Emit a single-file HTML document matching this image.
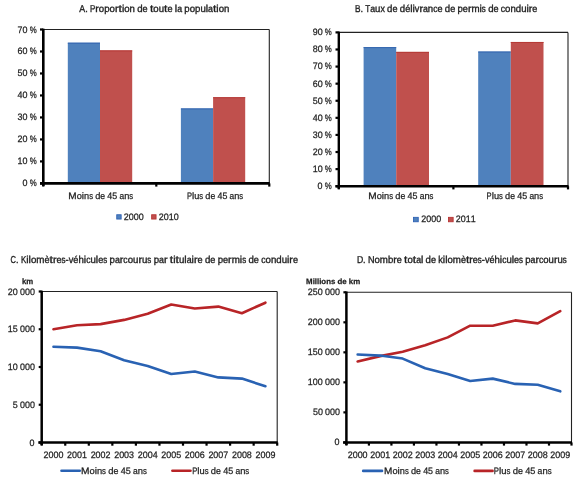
<!DOCTYPE html>
<html><head><meta charset="utf-8"><style>
html,body{margin:0;padding:0;background:#fff;width:580px;height:478px;overflow:hidden}
svg{display:block;font-family:"Liberation Sans", sans-serif}
text{stroke:#1e1e1e;text-rendering:geometricPrecision}
svg{stroke-width:0.25px}
svg{will-change:transform}
</style></head><body>
<svg width="580" height="478" viewBox="0 0 580 478">
<rect width="580" height="478" fill="#fff"/>
<rect x="43.30" y="29.50" width="226.00" height="153.90" fill="#fff"/>
<rect x="67.80" y="42.69" width="32.20" height="140.71" fill="#4F81BD"/>
<rect x="67.80" y="42.69" width="32.20" height="1.00" fill="#3566B0"/>
<rect x="100.00" y="50.39" width="32.20" height="133.01" fill="#C0504D"/>
<rect x="100.00" y="50.39" width="32.20" height="1.00" fill="#B53A36"/>
<rect x="180.90" y="108.43" width="32.20" height="74.97" fill="#4F81BD"/>
<rect x="180.90" y="108.43" width="32.20" height="1.00" fill="#3566B0"/>
<rect x="213.10" y="97.22" width="32.10" height="86.18" fill="#C0504D"/>
<rect x="213.10" y="97.22" width="32.10" height="1.00" fill="#B53A36"/>
<line x1="43.30" y1="29.50" x2="269.30" y2="29.50" stroke="#222" stroke-width="1.1"/>
<line x1="269.30" y1="29.50" x2="269.30" y2="183.40" stroke="#222" stroke-width="1.1"/>
<line x1="43.30" y1="28.70" x2="43.30" y2="186.00" stroke="#000" stroke-width="2.6"/>
<line x1="40.00" y1="183.40" x2="269.80" y2="183.40" stroke="#000" stroke-width="2.6"/>
<line x1="40.00" y1="183.40" x2="43.30" y2="183.40" stroke="#000" stroke-width="2.2"/>
<line x1="40.00" y1="161.41" x2="43.30" y2="161.41" stroke="#000" stroke-width="2.2"/>
<line x1="40.00" y1="139.43" x2="43.30" y2="139.43" stroke="#000" stroke-width="2.2"/>
<line x1="40.00" y1="117.44" x2="43.30" y2="117.44" stroke="#000" stroke-width="2.2"/>
<line x1="40.00" y1="95.46" x2="43.30" y2="95.46" stroke="#000" stroke-width="2.2"/>
<line x1="40.00" y1="73.47" x2="43.30" y2="73.47" stroke="#000" stroke-width="2.2"/>
<line x1="40.00" y1="51.49" x2="43.30" y2="51.49" stroke="#000" stroke-width="2.2"/>
<line x1="40.00" y1="29.50" x2="43.30" y2="29.50" stroke="#000" stroke-width="2.2"/>
<line x1="43.30" y1="183.40" x2="43.30" y2="186.60" stroke="#000" stroke-width="2.2"/>
<line x1="156.30" y1="183.40" x2="156.30" y2="186.60" stroke="#000" stroke-width="2.2"/>
<line x1="269.30" y1="183.40" x2="269.30" y2="186.60" stroke="#000" stroke-width="2.2"/>
<g><text transform="translate(22.61,186.40) scale(0.960,1)" font-size="9.3" fill="#1e1e1e">0</text><text transform="translate(29.79,186.40) scale(0.847,1)" font-size="9.3" fill="#1e1e1e">%</text></g>
<g><text transform="translate(17.57,164.41) scale(0.960,1)" font-size="9.3" fill="#1e1e1e">1</text><text transform="translate(22.54,164.41) scale(0.960,1)" font-size="9.3" fill="#1e1e1e">0</text><text transform="translate(29.72,164.41) scale(0.847,1)" font-size="9.3" fill="#1e1e1e">%</text></g>
<g><text transform="translate(17.57,142.43) scale(0.960,1)" font-size="9.3" fill="#1e1e1e">2</text><text transform="translate(22.54,142.43) scale(0.960,1)" font-size="9.3" fill="#1e1e1e">0</text><text transform="translate(29.72,142.43) scale(0.847,1)" font-size="9.3" fill="#1e1e1e">%</text></g>
<g><text transform="translate(17.57,120.44) scale(0.960,1)" font-size="9.3" fill="#1e1e1e">3</text><text transform="translate(22.54,120.44) scale(0.960,1)" font-size="9.3" fill="#1e1e1e">0</text><text transform="translate(29.72,120.44) scale(0.847,1)" font-size="9.3" fill="#1e1e1e">%</text></g>
<g><text transform="translate(17.57,98.46) scale(0.960,1)" font-size="9.3" fill="#1e1e1e">4</text><text transform="translate(22.54,98.46) scale(0.960,1)" font-size="9.3" fill="#1e1e1e">0</text><text transform="translate(29.72,98.46) scale(0.847,1)" font-size="9.3" fill="#1e1e1e">%</text></g>
<g><text transform="translate(17.57,76.47) scale(0.960,1)" font-size="9.3" fill="#1e1e1e">5</text><text transform="translate(22.54,76.47) scale(0.960,1)" font-size="9.3" fill="#1e1e1e">0</text><text transform="translate(29.72,76.47) scale(0.847,1)" font-size="9.3" fill="#1e1e1e">%</text></g>
<g><text transform="translate(17.57,54.49) scale(0.960,1)" font-size="9.3" fill="#1e1e1e">6</text><text transform="translate(22.54,54.49) scale(0.960,1)" font-size="9.3" fill="#1e1e1e">0</text><text transform="translate(29.72,54.49) scale(0.847,1)" font-size="9.3" fill="#1e1e1e">%</text></g>
<g><text transform="translate(17.57,32.50) scale(0.960,1)" font-size="9.3" fill="#1e1e1e">7</text><text transform="translate(22.54,32.50) scale(0.960,1)" font-size="9.3" fill="#1e1e1e">0</text><text transform="translate(29.72,32.50) scale(0.847,1)" font-size="9.3" fill="#1e1e1e">%</text></g>
<g><text transform="translate(68.31,199.10) scale(1.077,1)" font-size="9.3" fill="#1e1e1e">M</text><text transform="translate(76.66,199.10) scale(0.995,1)" font-size="9.3" fill="#1e1e1e">o</text><text transform="translate(81.80,199.10) scale(1.084,1)" font-size="9.3" fill="#1e1e1e">i</text><text transform="translate(84.04,199.10) scale(0.991,1)" font-size="9.3" fill="#1e1e1e">n</text><text transform="translate(89.17,199.10) scale(0.821,1)" font-size="9.3" fill="#1e1e1e">s</text><text transform="translate(95.19,199.10) scale(0.991,1)" font-size="9.3" fill="#1e1e1e">d</text><text transform="translate(100.31,199.10) scale(0.939,1)" font-size="9.3" fill="#1e1e1e">e</text><text transform="translate(107.37,199.10) scale(0.956,1)" font-size="9.3" fill="#1e1e1e">4</text><text transform="translate(112.32,199.10) scale(0.956,1)" font-size="9.3" fill="#1e1e1e">5</text><text transform="translate(119.47,199.10) scale(0.904,1)" font-size="9.3" fill="#1e1e1e">a</text><text transform="translate(124.14,199.10) scale(0.991,1)" font-size="9.3" fill="#1e1e1e">n</text><text transform="translate(129.27,199.10) scale(0.821,1)" font-size="9.3" fill="#1e1e1e">s</text></g>
<g><text transform="translate(186.91,199.10) scale(0.810,1)" font-size="9.3" fill="#1e1e1e">P</text><text transform="translate(191.94,199.10) scale(1.081,1)" font-size="9.3" fill="#1e1e1e">l</text><text transform="translate(194.17,199.10) scale(0.988,1)" font-size="9.3" fill="#1e1e1e">u</text><text transform="translate(199.29,199.10) scale(0.818,1)" font-size="9.3" fill="#1e1e1e">s</text><text transform="translate(205.29,199.10) scale(0.988,1)" font-size="9.3" fill="#1e1e1e">d</text><text transform="translate(210.40,199.10) scale(0.936,1)" font-size="9.3" fill="#1e1e1e">e</text><text transform="translate(217.44,199.10) scale(0.953,1)" font-size="9.3" fill="#1e1e1e">4</text><text transform="translate(222.38,199.10) scale(0.953,1)" font-size="9.3" fill="#1e1e1e">5</text><text transform="translate(229.51,199.10) scale(0.901,1)" font-size="9.3" fill="#1e1e1e">a</text><text transform="translate(234.17,199.10) scale(0.988,1)" font-size="9.3" fill="#1e1e1e">n</text><text transform="translate(239.28,199.10) scale(0.818,1)" font-size="9.3" fill="#1e1e1e">s</text></g>
<rect x="116.75" y="214.75" width="4.40" height="4.30" fill="#4F81BD" stroke="#2F62B5" stroke-width="0.9"/>
<g><text transform="translate(123.77,219.60) scale(0.960,1)" font-size="9.3" fill="#1e1e1e">2</text><text transform="translate(128.73,219.60) scale(0.960,1)" font-size="9.3" fill="#1e1e1e">0</text><text transform="translate(133.70,219.60) scale(0.960,1)" font-size="9.3" fill="#1e1e1e">0</text><text transform="translate(138.67,219.60) scale(0.960,1)" font-size="9.3" fill="#1e1e1e">0</text></g>
<rect x="151.65" y="214.75" width="4.40" height="4.30" fill="#C0504D" stroke="#B83535" stroke-width="0.9"/>
<g><text transform="translate(158.82,219.60) scale(0.960,1)" font-size="9.3" fill="#1e1e1e">2</text><text transform="translate(163.78,219.60) scale(0.960,1)" font-size="9.3" fill="#1e1e1e">0</text><text transform="translate(168.75,219.60) scale(0.960,1)" font-size="9.3" fill="#1e1e1e">1</text><text transform="translate(173.72,219.60) scale(0.960,1)" font-size="9.3" fill="#1e1e1e">0</text></g>
<g style="stroke-width:0.35px"><text transform="translate(79.30,12.40) scale(0.883,1)" font-size="10.0" fill="#1e1e1e">A</text><text transform="translate(85.19,12.40) scale(0.924,1)" font-size="10.0" fill="#1e1e1e">.</text><text transform="translate(90.06,12.40) scale(0.788,1)" font-size="10.0" fill="#1e1e1e">P</text><text transform="translate(95.31,12.40) scale(1.065,1)" font-size="10.0" fill="#1e1e1e">r</text><text transform="translate(98.86,12.40) scale(0.965,1)" font-size="10.0" fill="#1e1e1e">o</text><text transform="translate(104.22,12.40) scale(0.961,1)" font-size="10.0" fill="#1e1e1e">p</text><text transform="translate(109.57,12.40) scale(0.965,1)" font-size="10.0" fill="#1e1e1e">o</text><text transform="translate(114.93,12.40) scale(1.065,1)" font-size="10.0" fill="#1e1e1e">r</text><text transform="translate(118.48,12.40) scale(1.227,1)" font-size="10.0" fill="#1e1e1e">t</text><text transform="translate(121.89,12.40) scale(1.051,1)" font-size="10.0" fill="#1e1e1e">i</text><text transform="translate(124.22,12.40) scale(0.965,1)" font-size="10.0" fill="#1e1e1e">o</text><text transform="translate(129.59,12.40) scale(0.961,1)" font-size="10.0" fill="#1e1e1e">n</text><text transform="translate(137.23,12.40) scale(0.961,1)" font-size="10.0" fill="#1e1e1e">d</text><text transform="translate(142.58,12.40) scale(0.910,1)" font-size="10.0" fill="#1e1e1e">e</text><text transform="translate(149.94,12.40) scale(1.227,1)" font-size="10.0" fill="#1e1e1e">t</text><text transform="translate(153.35,12.40) scale(0.965,1)" font-size="10.0" fill="#1e1e1e">o</text><text transform="translate(158.71,12.40) scale(0.961,1)" font-size="10.0" fill="#1e1e1e">u</text><text transform="translate(164.06,12.40) scale(1.227,1)" font-size="10.0" fill="#1e1e1e">t</text><text transform="translate(167.47,12.40) scale(0.910,1)" font-size="10.0" fill="#1e1e1e">e</text><text transform="translate(174.83,12.40) scale(1.051,1)" font-size="10.0" fill="#1e1e1e">l</text><text transform="translate(177.16,12.40) scale(0.876,1)" font-size="10.0" fill="#1e1e1e">a</text><text transform="translate(184.34,12.40) scale(0.961,1)" font-size="10.0" fill="#1e1e1e">p</text><text transform="translate(189.68,12.40) scale(0.965,1)" font-size="10.0" fill="#1e1e1e">o</text><text transform="translate(195.05,12.40) scale(0.961,1)" font-size="10.0" fill="#1e1e1e">p</text><text transform="translate(200.39,12.40) scale(0.961,1)" font-size="10.0" fill="#1e1e1e">u</text><text transform="translate(205.74,12.40) scale(1.051,1)" font-size="10.0" fill="#1e1e1e">l</text><text transform="translate(208.07,12.40) scale(0.876,1)" font-size="10.0" fill="#1e1e1e">a</text><text transform="translate(212.95,12.40) scale(1.227,1)" font-size="10.0" fill="#1e1e1e">t</text><text transform="translate(216.35,12.40) scale(1.051,1)" font-size="10.0" fill="#1e1e1e">i</text><text transform="translate(218.69,12.40) scale(0.965,1)" font-size="10.0" fill="#1e1e1e">o</text><text transform="translate(224.05,12.40) scale(0.961,1)" font-size="10.0" fill="#1e1e1e">n</text></g>
<rect x="363.60" y="47.10" width="32.60" height="139.10" fill="#4F81BD"/>
<rect x="363.60" y="47.10" width="32.60" height="1.00" fill="#3566B0"/>
<rect x="396.20" y="51.88" width="32.80" height="134.32" fill="#C0504D"/>
<rect x="396.20" y="51.88" width="32.80" height="1.00" fill="#B53A36"/>
<rect x="478.20" y="51.54" width="32.60" height="134.66" fill="#4F81BD"/>
<rect x="478.20" y="51.54" width="32.60" height="1.00" fill="#3566B0"/>
<rect x="510.80" y="41.97" width="32.70" height="144.23" fill="#C0504D"/>
<rect x="510.80" y="41.97" width="32.70" height="1.00" fill="#B53A36"/>
<line x1="338.80" y1="32.40" x2="568.00" y2="32.40" stroke="#222" stroke-width="1.1"/>
<line x1="568.00" y1="32.40" x2="568.00" y2="186.20" stroke="#222" stroke-width="1.1"/>
<line x1="338.80" y1="31.60" x2="338.80" y2="188.80" stroke="#000" stroke-width="2.4"/>
<line x1="335.50" y1="186.20" x2="568.50" y2="186.20" stroke="#000" stroke-width="2.4"/>
<line x1="335.50" y1="186.20" x2="338.80" y2="186.20" stroke="#000" stroke-width="2.2"/>
<line x1="335.50" y1="169.11" x2="338.80" y2="169.11" stroke="#000" stroke-width="2.2"/>
<line x1="335.50" y1="152.02" x2="338.80" y2="152.02" stroke="#000" stroke-width="2.2"/>
<line x1="335.50" y1="134.93" x2="338.80" y2="134.93" stroke="#000" stroke-width="2.2"/>
<line x1="335.50" y1="117.84" x2="338.80" y2="117.84" stroke="#000" stroke-width="2.2"/>
<line x1="335.50" y1="100.76" x2="338.80" y2="100.76" stroke="#000" stroke-width="2.2"/>
<line x1="335.50" y1="83.67" x2="338.80" y2="83.67" stroke="#000" stroke-width="2.2"/>
<line x1="335.50" y1="66.58" x2="338.80" y2="66.58" stroke="#000" stroke-width="2.2"/>
<line x1="335.50" y1="49.49" x2="338.80" y2="49.49" stroke="#000" stroke-width="2.2"/>
<line x1="335.50" y1="32.40" x2="338.80" y2="32.40" stroke="#000" stroke-width="2.2"/>
<line x1="338.80" y1="186.20" x2="338.80" y2="189.40" stroke="#000" stroke-width="2.2"/>
<line x1="453.40" y1="186.20" x2="453.40" y2="189.40" stroke="#000" stroke-width="2.2"/>
<line x1="568.00" y1="186.20" x2="568.00" y2="189.40" stroke="#000" stroke-width="2.2"/>
<g><text transform="translate(317.51,189.10) scale(0.960,1)" font-size="9.3" fill="#1e1e1e">0</text><text transform="translate(324.69,189.10) scale(0.847,1)" font-size="9.3" fill="#1e1e1e">%</text></g>
<g><text transform="translate(312.72,172.01) scale(0.960,1)" font-size="9.3" fill="#1e1e1e">1</text><text transform="translate(317.69,172.01) scale(0.960,1)" font-size="9.3" fill="#1e1e1e">0</text><text transform="translate(324.87,172.01) scale(0.847,1)" font-size="9.3" fill="#1e1e1e">%</text></g>
<g><text transform="translate(312.72,154.92) scale(0.960,1)" font-size="9.3" fill="#1e1e1e">2</text><text transform="translate(317.69,154.92) scale(0.960,1)" font-size="9.3" fill="#1e1e1e">0</text><text transform="translate(324.87,154.92) scale(0.847,1)" font-size="9.3" fill="#1e1e1e">%</text></g>
<g><text transform="translate(312.72,137.83) scale(0.960,1)" font-size="9.3" fill="#1e1e1e">3</text><text transform="translate(317.69,137.83) scale(0.960,1)" font-size="9.3" fill="#1e1e1e">0</text><text transform="translate(324.87,137.83) scale(0.847,1)" font-size="9.3" fill="#1e1e1e">%</text></g>
<g><text transform="translate(312.72,120.74) scale(0.960,1)" font-size="9.3" fill="#1e1e1e">4</text><text transform="translate(317.69,120.74) scale(0.960,1)" font-size="9.3" fill="#1e1e1e">0</text><text transform="translate(324.87,120.74) scale(0.847,1)" font-size="9.3" fill="#1e1e1e">%</text></g>
<g><text transform="translate(312.72,103.66) scale(0.960,1)" font-size="9.3" fill="#1e1e1e">5</text><text transform="translate(317.69,103.66) scale(0.960,1)" font-size="9.3" fill="#1e1e1e">0</text><text transform="translate(324.87,103.66) scale(0.847,1)" font-size="9.3" fill="#1e1e1e">%</text></g>
<g><text transform="translate(312.72,86.57) scale(0.960,1)" font-size="9.3" fill="#1e1e1e">6</text><text transform="translate(317.69,86.57) scale(0.960,1)" font-size="9.3" fill="#1e1e1e">0</text><text transform="translate(324.87,86.57) scale(0.847,1)" font-size="9.3" fill="#1e1e1e">%</text></g>
<g><text transform="translate(312.72,69.48) scale(0.960,1)" font-size="9.3" fill="#1e1e1e">7</text><text transform="translate(317.69,69.48) scale(0.960,1)" font-size="9.3" fill="#1e1e1e">0</text><text transform="translate(324.87,69.48) scale(0.847,1)" font-size="9.3" fill="#1e1e1e">%</text></g>
<g><text transform="translate(312.72,52.39) scale(0.960,1)" font-size="9.3" fill="#1e1e1e">8</text><text transform="translate(317.69,52.39) scale(0.960,1)" font-size="9.3" fill="#1e1e1e">0</text><text transform="translate(324.87,52.39) scale(0.847,1)" font-size="9.3" fill="#1e1e1e">%</text></g>
<g><text transform="translate(312.72,35.30) scale(0.960,1)" font-size="9.3" fill="#1e1e1e">9</text><text transform="translate(317.69,35.30) scale(0.960,1)" font-size="9.3" fill="#1e1e1e">0</text><text transform="translate(324.87,35.30) scale(0.847,1)" font-size="9.3" fill="#1e1e1e">%</text></g>
<g><text transform="translate(368.31,198.80) scale(1.082,1)" font-size="9.3" fill="#1e1e1e">M</text><text transform="translate(376.69,198.80) scale(0.999,1)" font-size="9.3" fill="#1e1e1e">o</text><text transform="translate(381.86,198.80) scale(1.089,1)" font-size="9.3" fill="#1e1e1e">i</text><text transform="translate(384.11,198.80) scale(0.996,1)" font-size="9.3" fill="#1e1e1e">n</text><text transform="translate(389.26,198.80) scale(0.824,1)" font-size="9.3" fill="#1e1e1e">s</text><text transform="translate(395.31,198.80) scale(0.996,1)" font-size="9.3" fill="#1e1e1e">d</text><text transform="translate(400.46,198.80) scale(0.943,1)" font-size="9.3" fill="#1e1e1e">e</text><text transform="translate(407.56,198.80) scale(0.961,1)" font-size="9.3" fill="#1e1e1e">4</text><text transform="translate(412.52,198.80) scale(0.961,1)" font-size="9.3" fill="#1e1e1e">5</text><text transform="translate(419.71,198.80) scale(0.908,1)" font-size="9.3" fill="#1e1e1e">a</text><text transform="translate(424.40,198.80) scale(0.996,1)" font-size="9.3" fill="#1e1e1e">n</text><text transform="translate(429.55,198.80) scale(0.824,1)" font-size="9.3" fill="#1e1e1e">s</text></g>
<g><text transform="translate(486.61,198.80) scale(0.815,1)" font-size="9.3" fill="#1e1e1e">P</text><text transform="translate(491.67,198.80) scale(1.087,1)" font-size="9.3" fill="#1e1e1e">l</text><text transform="translate(493.91,198.80) scale(0.994,1)" font-size="9.3" fill="#1e1e1e">u</text><text transform="translate(499.05,198.80) scale(0.823,1)" font-size="9.3" fill="#1e1e1e">s</text><text transform="translate(505.09,198.80) scale(0.994,1)" font-size="9.3" fill="#1e1e1e">d</text><text transform="translate(510.23,198.80) scale(0.941,1)" font-size="9.3" fill="#1e1e1e">e</text><text transform="translate(517.31,198.80) scale(0.959,1)" font-size="9.3" fill="#1e1e1e">4</text><text transform="translate(522.27,198.80) scale(0.959,1)" font-size="9.3" fill="#1e1e1e">5</text><text transform="translate(529.44,198.80) scale(0.906,1)" font-size="9.3" fill="#1e1e1e">a</text><text transform="translate(534.12,198.80) scale(0.994,1)" font-size="9.3" fill="#1e1e1e">n</text><text transform="translate(539.26,198.80) scale(0.823,1)" font-size="9.3" fill="#1e1e1e">s</text></g>
<rect x="413.55" y="217.35" width="4.70" height="4.40" fill="#4F81BD" stroke="#2F62B5" stroke-width="0.9"/>
<g><text transform="translate(421.32,222.20) scale(0.960,1)" font-size="9.3" fill="#1e1e1e">2</text><text transform="translate(426.28,222.20) scale(0.960,1)" font-size="9.3" fill="#1e1e1e">0</text><text transform="translate(431.25,222.20) scale(0.960,1)" font-size="9.3" fill="#1e1e1e">0</text><text transform="translate(436.22,222.20) scale(0.960,1)" font-size="9.3" fill="#1e1e1e">0</text></g>
<rect x="448.45" y="217.35" width="4.70" height="4.40" fill="#C0504D" stroke="#B83535" stroke-width="0.9"/>
<g><text transform="translate(455.82,222.20) scale(0.960,1)" font-size="9.3" fill="#1e1e1e">2</text><text transform="translate(460.78,222.20) scale(0.960,1)" font-size="9.3" fill="#1e1e1e">0</text><text transform="translate(465.75,222.20) scale(0.960,1)" font-size="9.3" fill="#1e1e1e">1</text><text transform="translate(470.72,222.20) scale(0.960,1)" font-size="9.3" fill="#1e1e1e">1</text></g>
<g style="stroke-width:0.35px"><text transform="translate(354.90,12.10) scale(0.828,1)" font-size="10.0" fill="#1e1e1e">B</text><text transform="translate(360.43,12.10) scale(0.923,1)" font-size="10.0" fill="#1e1e1e">.</text><text transform="translate(365.28,12.10) scale(0.810,1)" font-size="10.0" fill="#1e1e1e">T</text><text transform="translate(370.23,12.10) scale(0.875,1)" font-size="10.0" fill="#1e1e1e">a</text><text transform="translate(375.10,12.10) scale(0.959,1)" font-size="10.0" fill="#1e1e1e">u</text><text transform="translate(380.43,12.10) scale(0.880,1)" font-size="10.0" fill="#1e1e1e">x</text><text transform="translate(387.12,12.10) scale(0.959,1)" font-size="10.0" fill="#1e1e1e">d</text><text transform="translate(392.46,12.10) scale(0.908,1)" font-size="10.0" fill="#1e1e1e">e</text><text transform="translate(399.81,12.10) scale(0.959,1)" font-size="10.0" fill="#1e1e1e">d</text><text transform="translate(405.14,12.10) scale(0.908,1)" font-size="10.0" fill="#1e1e1e">é</text><text transform="translate(410.19,12.10) scale(1.049,1)" font-size="10.0" fill="#1e1e1e">l</text><text transform="translate(412.52,12.10) scale(1.049,1)" font-size="10.0" fill="#1e1e1e">i</text><text transform="translate(414.85,12.10) scale(0.917,1)" font-size="10.0" fill="#1e1e1e">v</text><text transform="translate(419.44,12.10) scale(1.063,1)" font-size="10.0" fill="#1e1e1e">r</text><text transform="translate(422.98,12.10) scale(0.875,1)" font-size="10.0" fill="#1e1e1e">a</text><text transform="translate(427.84,12.10) scale(0.959,1)" font-size="10.0" fill="#1e1e1e">n</text><text transform="translate(433.18,12.10) scale(0.859,1)" font-size="10.0" fill="#1e1e1e">c</text><text transform="translate(437.47,12.10) scale(0.908,1)" font-size="10.0" fill="#1e1e1e">e</text><text transform="translate(444.82,12.10) scale(0.959,1)" font-size="10.0" fill="#1e1e1e">d</text><text transform="translate(450.16,12.10) scale(0.908,1)" font-size="10.0" fill="#1e1e1e">e</text><text transform="translate(457.50,12.10) scale(0.959,1)" font-size="10.0" fill="#1e1e1e">p</text><text transform="translate(462.84,12.10) scale(0.908,1)" font-size="10.0" fill="#1e1e1e">e</text><text transform="translate(467.89,12.10) scale(1.063,1)" font-size="10.0" fill="#1e1e1e">r</text><text transform="translate(471.43,12.10) scale(0.974,1)" font-size="10.0" fill="#1e1e1e">m</text><text transform="translate(479.54,12.10) scale(1.049,1)" font-size="10.0" fill="#1e1e1e">i</text><text transform="translate(481.87,12.10) scale(0.794,1)" font-size="10.0" fill="#1e1e1e">s</text><text transform="translate(488.14,12.10) scale(0.959,1)" font-size="10.0" fill="#1e1e1e">d</text><text transform="translate(493.47,12.10) scale(0.908,1)" font-size="10.0" fill="#1e1e1e">e</text><text transform="translate(500.82,12.10) scale(0.859,1)" font-size="10.0" fill="#1e1e1e">c</text><text transform="translate(505.12,12.10) scale(0.963,1)" font-size="10.0" fill="#1e1e1e">o</text><text transform="translate(510.47,12.10) scale(0.959,1)" font-size="10.0" fill="#1e1e1e">n</text><text transform="translate(515.81,12.10) scale(0.959,1)" font-size="10.0" fill="#1e1e1e">d</text><text transform="translate(521.14,12.10) scale(0.959,1)" font-size="10.0" fill="#1e1e1e">u</text><text transform="translate(526.47,12.10) scale(1.049,1)" font-size="10.0" fill="#1e1e1e">i</text><text transform="translate(528.81,12.10) scale(1.063,1)" font-size="10.0" fill="#1e1e1e">r</text><text transform="translate(532.35,12.10) scale(0.908,1)" font-size="10.0" fill="#1e1e1e">e</text></g>
<line x1="41.70" y1="291.50" x2="277.20" y2="291.50" stroke="#222" stroke-width="1.1"/>
<line x1="277.20" y1="291.50" x2="277.20" y2="442.50" stroke="#222" stroke-width="1.1"/>
<polyline points="53.48,329.20 77.03,325.20 100.58,324.10 124.12,319.90 147.68,313.70 171.23,304.51 194.78,308.56 218.32,306.60 241.88,313.20 265.43,302.70" fill="none" stroke="#B82427" stroke-width="2.6" stroke-linejoin="round" stroke-linecap="round"/>
<polyline points="53.48,346.70 77.03,347.60 100.58,351.30 124.12,360.20 147.68,366.00 171.23,374.00 194.78,371.50 218.32,377.40 241.88,378.60 265.43,386.20" fill="none" stroke="#2962B3" stroke-width="2.6" stroke-linejoin="round" stroke-linecap="round"/>
<line x1="41.70" y1="290.70" x2="41.70" y2="445.10" stroke="#000" stroke-width="2.5"/>
<line x1="38.40" y1="442.50" x2="277.70" y2="442.50" stroke="#000" stroke-width="2.5"/>
<line x1="38.70" y1="442.50" x2="41.70" y2="442.50" stroke="#000" stroke-width="2.2"/>
<line x1="38.70" y1="404.75" x2="41.70" y2="404.75" stroke="#000" stroke-width="2.2"/>
<line x1="38.70" y1="367.00" x2="41.70" y2="367.00" stroke="#000" stroke-width="2.2"/>
<line x1="38.70" y1="329.25" x2="41.70" y2="329.25" stroke="#000" stroke-width="2.2"/>
<line x1="38.70" y1="291.50" x2="41.70" y2="291.50" stroke="#000" stroke-width="2.2"/>
<line x1="41.70" y1="442.50" x2="41.70" y2="445.70" stroke="#000" stroke-width="2.2"/>
<line x1="65.25" y1="442.50" x2="65.25" y2="445.70" stroke="#000" stroke-width="2.2"/>
<line x1="88.80" y1="442.50" x2="88.80" y2="445.70" stroke="#000" stroke-width="2.2"/>
<line x1="112.35" y1="442.50" x2="112.35" y2="445.70" stroke="#000" stroke-width="2.2"/>
<line x1="135.90" y1="442.50" x2="135.90" y2="445.70" stroke="#000" stroke-width="2.2"/>
<line x1="159.45" y1="442.50" x2="159.45" y2="445.70" stroke="#000" stroke-width="2.2"/>
<line x1="183.00" y1="442.50" x2="183.00" y2="445.70" stroke="#000" stroke-width="2.2"/>
<line x1="206.55" y1="442.50" x2="206.55" y2="445.70" stroke="#000" stroke-width="2.2"/>
<line x1="230.10" y1="442.50" x2="230.10" y2="445.70" stroke="#000" stroke-width="2.2"/>
<line x1="253.65" y1="442.50" x2="253.65" y2="445.70" stroke="#000" stroke-width="2.2"/>
<line x1="277.20" y1="442.50" x2="277.20" y2="445.70" stroke="#000" stroke-width="2.2"/>
<g><text transform="translate(29.47,445.50) scale(0.960,1)" font-size="9.3" fill="#1e1e1e">0</text></g>
<g><text transform="translate(12.86,407.75) scale(0.960,1)" font-size="9.3" fill="#1e1e1e">5</text><text transform="translate(20.04,407.75) scale(0.960,1)" font-size="9.3" fill="#1e1e1e">0</text><text transform="translate(25.01,407.75) scale(0.960,1)" font-size="9.3" fill="#1e1e1e">0</text><text transform="translate(29.97,407.75) scale(0.960,1)" font-size="9.3" fill="#1e1e1e">0</text></g>
<g><text transform="translate(7.87,370.00) scale(0.960,1)" font-size="9.3" fill="#1e1e1e">1</text><text transform="translate(12.84,370.00) scale(0.960,1)" font-size="9.3" fill="#1e1e1e">0</text><text transform="translate(20.02,370.00) scale(0.960,1)" font-size="9.3" fill="#1e1e1e">0</text><text transform="translate(24.99,370.00) scale(0.960,1)" font-size="9.3" fill="#1e1e1e">0</text><text transform="translate(29.96,370.00) scale(0.960,1)" font-size="9.3" fill="#1e1e1e">0</text></g>
<g><text transform="translate(7.87,332.25) scale(0.960,1)" font-size="9.3" fill="#1e1e1e">1</text><text transform="translate(12.84,332.25) scale(0.960,1)" font-size="9.3" fill="#1e1e1e">5</text><text transform="translate(20.02,332.25) scale(0.960,1)" font-size="9.3" fill="#1e1e1e">0</text><text transform="translate(24.99,332.25) scale(0.960,1)" font-size="9.3" fill="#1e1e1e">0</text><text transform="translate(29.96,332.25) scale(0.960,1)" font-size="9.3" fill="#1e1e1e">0</text></g>
<g><text transform="translate(7.87,294.50) scale(0.960,1)" font-size="9.3" fill="#1e1e1e">2</text><text transform="translate(12.84,294.50) scale(0.960,1)" font-size="9.3" fill="#1e1e1e">0</text><text transform="translate(20.02,294.50) scale(0.960,1)" font-size="9.3" fill="#1e1e1e">0</text><text transform="translate(24.99,294.50) scale(0.960,1)" font-size="9.3" fill="#1e1e1e">0</text><text transform="translate(29.96,294.50) scale(0.960,1)" font-size="9.3" fill="#1e1e1e">0</text></g>
<g><text transform="translate(43.54,457.60) scale(0.960,1)" font-size="9.3" fill="#1e1e1e">2</text><text transform="translate(48.51,457.60) scale(0.960,1)" font-size="9.3" fill="#1e1e1e">0</text><text transform="translate(53.47,457.60) scale(0.960,1)" font-size="9.3" fill="#1e1e1e">0</text><text transform="translate(58.44,457.60) scale(0.960,1)" font-size="9.3" fill="#1e1e1e">0</text></g>
<g><text transform="translate(67.09,457.60) scale(0.960,1)" font-size="9.3" fill="#1e1e1e">2</text><text transform="translate(72.06,457.60) scale(0.960,1)" font-size="9.3" fill="#1e1e1e">0</text><text transform="translate(77.03,457.60) scale(0.960,1)" font-size="9.3" fill="#1e1e1e">0</text><text transform="translate(81.99,457.60) scale(0.960,1)" font-size="9.3" fill="#1e1e1e">1</text></g>
<g><text transform="translate(90.64,457.60) scale(0.960,1)" font-size="9.3" fill="#1e1e1e">2</text><text transform="translate(95.61,457.60) scale(0.960,1)" font-size="9.3" fill="#1e1e1e">0</text><text transform="translate(100.57,457.60) scale(0.960,1)" font-size="9.3" fill="#1e1e1e">0</text><text transform="translate(105.54,457.60) scale(0.960,1)" font-size="9.3" fill="#1e1e1e">2</text></g>
<g><text transform="translate(114.19,457.60) scale(0.960,1)" font-size="9.3" fill="#1e1e1e">2</text><text transform="translate(119.16,457.60) scale(0.960,1)" font-size="9.3" fill="#1e1e1e">0</text><text transform="translate(124.12,457.60) scale(0.960,1)" font-size="9.3" fill="#1e1e1e">0</text><text transform="translate(129.09,457.60) scale(0.960,1)" font-size="9.3" fill="#1e1e1e">3</text></g>
<g><text transform="translate(137.74,457.60) scale(0.960,1)" font-size="9.3" fill="#1e1e1e">2</text><text transform="translate(142.71,457.60) scale(0.960,1)" font-size="9.3" fill="#1e1e1e">0</text><text transform="translate(147.68,457.60) scale(0.960,1)" font-size="9.3" fill="#1e1e1e">0</text><text transform="translate(152.64,457.60) scale(0.960,1)" font-size="9.3" fill="#1e1e1e">4</text></g>
<g><text transform="translate(161.29,457.60) scale(0.960,1)" font-size="9.3" fill="#1e1e1e">2</text><text transform="translate(166.26,457.60) scale(0.960,1)" font-size="9.3" fill="#1e1e1e">0</text><text transform="translate(171.23,457.60) scale(0.960,1)" font-size="9.3" fill="#1e1e1e">0</text><text transform="translate(176.19,457.60) scale(0.960,1)" font-size="9.3" fill="#1e1e1e">5</text></g>
<g><text transform="translate(184.84,457.60) scale(0.960,1)" font-size="9.3" fill="#1e1e1e">2</text><text transform="translate(189.81,457.60) scale(0.960,1)" font-size="9.3" fill="#1e1e1e">0</text><text transform="translate(194.78,457.60) scale(0.960,1)" font-size="9.3" fill="#1e1e1e">0</text><text transform="translate(199.74,457.60) scale(0.960,1)" font-size="9.3" fill="#1e1e1e">6</text></g>
<g><text transform="translate(208.39,457.60) scale(0.960,1)" font-size="9.3" fill="#1e1e1e">2</text><text transform="translate(213.36,457.60) scale(0.960,1)" font-size="9.3" fill="#1e1e1e">0</text><text transform="translate(218.33,457.60) scale(0.960,1)" font-size="9.3" fill="#1e1e1e">0</text><text transform="translate(223.29,457.60) scale(0.960,1)" font-size="9.3" fill="#1e1e1e">7</text></g>
<g><text transform="translate(231.94,457.60) scale(0.960,1)" font-size="9.3" fill="#1e1e1e">2</text><text transform="translate(236.91,457.60) scale(0.960,1)" font-size="9.3" fill="#1e1e1e">0</text><text transform="translate(241.88,457.60) scale(0.960,1)" font-size="9.3" fill="#1e1e1e">0</text><text transform="translate(246.84,457.60) scale(0.960,1)" font-size="9.3" fill="#1e1e1e">8</text></g>
<g><text transform="translate(255.49,457.60) scale(0.960,1)" font-size="9.3" fill="#1e1e1e">2</text><text transform="translate(260.46,457.60) scale(0.960,1)" font-size="9.3" fill="#1e1e1e">0</text><text transform="translate(265.43,457.60) scale(0.960,1)" font-size="9.3" fill="#1e1e1e">0</text><text transform="translate(270.39,457.60) scale(0.960,1)" font-size="9.3" fill="#1e1e1e">9</text></g>
<text x="22.00" y="283.90" font-size="7.9" font-weight="bold" fill="#1e1e1e" textLength="11.20" lengthAdjust="spacingAndGlyphs">km</text>
<line x1="61.50" y1="470.80" x2="79.80" y2="470.80" stroke="#2962B3" stroke-width="2.6" stroke-linecap="round"/>
<g><text transform="translate(80.91,473.80) scale(1.095,1)" font-size="9.3" fill="#1e1e1e">M</text><text transform="translate(89.39,473.80) scale(1.012,1)" font-size="9.3" fill="#1e1e1e">o</text><text transform="translate(94.63,473.80) scale(1.102,1)" font-size="9.3" fill="#1e1e1e">i</text><text transform="translate(96.90,473.80) scale(1.008,1)" font-size="9.3" fill="#1e1e1e">n</text><text transform="translate(102.12,473.80) scale(0.835,1)" font-size="9.3" fill="#1e1e1e">s</text><text transform="translate(108.24,473.80) scale(1.008,1)" font-size="9.3" fill="#1e1e1e">d</text><text transform="translate(113.46,473.80) scale(0.955,1)" font-size="9.3" fill="#1e1e1e">e</text><text transform="translate(120.64,473.80) scale(0.972,1)" font-size="9.3" fill="#1e1e1e">4</text><text transform="translate(125.67,473.80) scale(0.972,1)" font-size="9.3" fill="#1e1e1e">5</text><text transform="translate(132.94,473.80) scale(0.919,1)" font-size="9.3" fill="#1e1e1e">a</text><text transform="translate(137.70,473.80) scale(1.008,1)" font-size="9.3" fill="#1e1e1e">n</text><text transform="translate(142.91,473.80) scale(0.835,1)" font-size="9.3" fill="#1e1e1e">s</text></g>
<line x1="172.40" y1="470.80" x2="190.50" y2="470.80" stroke="#B82427" stroke-width="2.6" stroke-linecap="round"/>
<g><text transform="translate(192.21,473.80) scale(0.822,1)" font-size="9.3" fill="#1e1e1e">P</text><text transform="translate(197.31,473.80) scale(1.096,1)" font-size="9.3" fill="#1e1e1e">l</text><text transform="translate(199.57,473.80) scale(1.003,1)" font-size="9.3" fill="#1e1e1e">u</text><text transform="translate(204.76,473.80) scale(0.830,1)" font-size="9.3" fill="#1e1e1e">s</text><text transform="translate(210.85,473.80) scale(1.003,1)" font-size="9.3" fill="#1e1e1e">d</text><text transform="translate(216.04,473.80) scale(0.949,1)" font-size="9.3" fill="#1e1e1e">e</text><text transform="translate(223.18,473.80) scale(0.967,1)" font-size="9.3" fill="#1e1e1e">4</text><text transform="translate(228.18,473.80) scale(0.967,1)" font-size="9.3" fill="#1e1e1e">5</text><text transform="translate(235.42,473.80) scale(0.914,1)" font-size="9.3" fill="#1e1e1e">a</text><text transform="translate(240.14,473.80) scale(1.003,1)" font-size="9.3" fill="#1e1e1e">n</text><text transform="translate(245.33,473.80) scale(0.830,1)" font-size="9.3" fill="#1e1e1e">s</text></g>
<g style="stroke-width:0.35px"><text transform="translate(10.60,262.80) scale(0.754,1)" font-size="10.0" fill="#1e1e1e">C</text><text transform="translate(16.05,262.80) scale(0.928,1)" font-size="10.0" fill="#1e1e1e">.</text><text transform="translate(20.93,262.80) scale(0.796,1)" font-size="10.0" fill="#1e1e1e">K</text><text transform="translate(26.24,262.80) scale(1.055,1)" font-size="10.0" fill="#1e1e1e">i</text><text transform="translate(28.58,262.80) scale(1.055,1)" font-size="10.0" fill="#1e1e1e">l</text><text transform="translate(30.93,262.80) scale(0.968,1)" font-size="10.0" fill="#1e1e1e">o</text><text transform="translate(36.31,262.80) scale(0.979,1)" font-size="10.0" fill="#1e1e1e">m</text><text transform="translate(44.47,262.80) scale(0.914,1)" font-size="10.0" fill="#1e1e1e">è</text><text transform="translate(49.55,262.80) scale(1.231,1)" font-size="10.0" fill="#1e1e1e">t</text><text transform="translate(52.97,262.80) scale(1.069,1)" font-size="10.0" fill="#1e1e1e">r</text><text transform="translate(56.53,262.80) scale(0.914,1)" font-size="10.0" fill="#1e1e1e">e</text><text transform="translate(61.62,262.80) scale(0.799,1)" font-size="10.0" fill="#1e1e1e">s</text><text transform="translate(65.61,262.80) scale(0.939,1)" font-size="10.0" fill="#1e1e1e">-</text><text transform="translate(68.74,262.80) scale(0.923,1)" font-size="10.0" fill="#1e1e1e">v</text><text transform="translate(73.35,262.80) scale(0.914,1)" font-size="10.0" fill="#1e1e1e">é</text><text transform="translate(78.43,262.80) scale(0.965,1)" font-size="10.0" fill="#1e1e1e">h</text><text transform="translate(83.80,262.80) scale(1.055,1)" font-size="10.0" fill="#1e1e1e">i</text><text transform="translate(86.14,262.80) scale(0.864,1)" font-size="10.0" fill="#1e1e1e">c</text><text transform="translate(90.46,262.80) scale(0.965,1)" font-size="10.0" fill="#1e1e1e">u</text><text transform="translate(95.83,262.80) scale(1.055,1)" font-size="10.0" fill="#1e1e1e">l</text><text transform="translate(98.17,262.80) scale(0.914,1)" font-size="10.0" fill="#1e1e1e">e</text><text transform="translate(103.25,262.80) scale(0.799,1)" font-size="10.0" fill="#1e1e1e">s</text><text transform="translate(109.56,262.80) scale(0.965,1)" font-size="10.0" fill="#1e1e1e">p</text><text transform="translate(114.92,262.80) scale(0.880,1)" font-size="10.0" fill="#1e1e1e">a</text><text transform="translate(119.81,262.80) scale(1.069,1)" font-size="10.0" fill="#1e1e1e">r</text><text transform="translate(123.37,262.80) scale(0.864,1)" font-size="10.0" fill="#1e1e1e">c</text><text transform="translate(127.69,262.80) scale(0.968,1)" font-size="10.0" fill="#1e1e1e">o</text><text transform="translate(133.08,262.80) scale(0.965,1)" font-size="10.0" fill="#1e1e1e">u</text><text transform="translate(138.44,262.80) scale(1.069,1)" font-size="10.0" fill="#1e1e1e">r</text><text transform="translate(142.00,262.80) scale(0.965,1)" font-size="10.0" fill="#1e1e1e">u</text><text transform="translate(147.37,262.80) scale(0.799,1)" font-size="10.0" fill="#1e1e1e">s</text><text transform="translate(153.67,262.80) scale(0.965,1)" font-size="10.0" fill="#1e1e1e">p</text><text transform="translate(159.04,262.80) scale(0.880,1)" font-size="10.0" fill="#1e1e1e">a</text><text transform="translate(163.93,262.80) scale(1.069,1)" font-size="10.0" fill="#1e1e1e">r</text><text transform="translate(169.80,262.80) scale(1.231,1)" font-size="10.0" fill="#1e1e1e">t</text><text transform="translate(173.22,262.80) scale(1.055,1)" font-size="10.0" fill="#1e1e1e">i</text><text transform="translate(175.57,262.80) scale(1.231,1)" font-size="10.0" fill="#1e1e1e">t</text><text transform="translate(178.99,262.80) scale(0.965,1)" font-size="10.0" fill="#1e1e1e">u</text><text transform="translate(184.35,262.80) scale(1.055,1)" font-size="10.0" fill="#1e1e1e">l</text><text transform="translate(186.70,262.80) scale(0.880,1)" font-size="10.0" fill="#1e1e1e">a</text><text transform="translate(191.59,262.80) scale(1.055,1)" font-size="10.0" fill="#1e1e1e">i</text><text transform="translate(193.93,262.80) scale(1.069,1)" font-size="10.0" fill="#1e1e1e">r</text><text transform="translate(197.49,262.80) scale(0.914,1)" font-size="10.0" fill="#1e1e1e">e</text><text transform="translate(204.88,262.80) scale(0.965,1)" font-size="10.0" fill="#1e1e1e">d</text><text transform="translate(210.25,262.80) scale(0.914,1)" font-size="10.0" fill="#1e1e1e">e</text><text transform="translate(217.64,262.80) scale(0.965,1)" font-size="10.0" fill="#1e1e1e">p</text><text transform="translate(223.01,262.80) scale(0.914,1)" font-size="10.0" fill="#1e1e1e">e</text><text transform="translate(228.09,262.80) scale(1.069,1)" font-size="10.0" fill="#1e1e1e">r</text><text transform="translate(231.65,262.80) scale(0.979,1)" font-size="10.0" fill="#1e1e1e">m</text><text transform="translate(239.81,262.80) scale(1.055,1)" font-size="10.0" fill="#1e1e1e">i</text><text transform="translate(242.15,262.80) scale(0.799,1)" font-size="10.0" fill="#1e1e1e">s</text><text transform="translate(248.45,262.80) scale(0.965,1)" font-size="10.0" fill="#1e1e1e">d</text><text transform="translate(253.82,262.80) scale(0.914,1)" font-size="10.0" fill="#1e1e1e">e</text><text transform="translate(261.21,262.80) scale(0.864,1)" font-size="10.0" fill="#1e1e1e">c</text><text transform="translate(265.53,262.80) scale(0.968,1)" font-size="10.0" fill="#1e1e1e">o</text><text transform="translate(270.92,262.80) scale(0.965,1)" font-size="10.0" fill="#1e1e1e">n</text><text transform="translate(276.28,262.80) scale(0.965,1)" font-size="10.0" fill="#1e1e1e">d</text><text transform="translate(281.65,262.80) scale(0.965,1)" font-size="10.0" fill="#1e1e1e">u</text><text transform="translate(287.01,262.80) scale(1.055,1)" font-size="10.0" fill="#1e1e1e">i</text><text transform="translate(289.36,262.80) scale(1.069,1)" font-size="10.0" fill="#1e1e1e">r</text><text transform="translate(292.92,262.80) scale(0.914,1)" font-size="10.0" fill="#1e1e1e">e</text></g>
<line x1="346.40" y1="292.30" x2="571.50" y2="292.30" stroke="#222" stroke-width="1.1"/>
<line x1="571.50" y1="292.30" x2="571.50" y2="442.40" stroke="#222" stroke-width="1.1"/>
<polyline points="357.65,361.40 380.16,356.12 402.67,351.70 425.19,345.32 447.69,337.39 470.20,325.68 492.71,325.68 515.23,320.40 537.74,323.40 560.25,311.21" fill="none" stroke="#B82427" stroke-width="2.6" stroke-linejoin="round" stroke-linecap="round"/>
<polyline points="357.65,354.50 380.16,355.58 402.67,358.58 425.19,368.31 447.69,374.07 470.20,380.92 492.71,378.64 515.23,383.92 537.74,384.82 560.25,391.31" fill="none" stroke="#2962B3" stroke-width="2.6" stroke-linejoin="round" stroke-linecap="round"/>
<line x1="346.40" y1="291.50" x2="346.40" y2="445.00" stroke="#000" stroke-width="2.5"/>
<line x1="343.10" y1="442.40" x2="572.00" y2="442.40" stroke="#000" stroke-width="2.5"/>
<line x1="343.40" y1="442.40" x2="346.40" y2="442.40" stroke="#000" stroke-width="2.2"/>
<line x1="343.40" y1="412.38" x2="346.40" y2="412.38" stroke="#000" stroke-width="2.2"/>
<line x1="343.40" y1="382.36" x2="346.40" y2="382.36" stroke="#000" stroke-width="2.2"/>
<line x1="343.40" y1="352.34" x2="346.40" y2="352.34" stroke="#000" stroke-width="2.2"/>
<line x1="343.40" y1="322.32" x2="346.40" y2="322.32" stroke="#000" stroke-width="2.2"/>
<line x1="343.40" y1="292.30" x2="346.40" y2="292.30" stroke="#000" stroke-width="2.2"/>
<line x1="346.40" y1="442.40" x2="346.40" y2="445.60" stroke="#000" stroke-width="2.2"/>
<line x1="368.91" y1="442.40" x2="368.91" y2="445.60" stroke="#000" stroke-width="2.2"/>
<line x1="391.42" y1="442.40" x2="391.42" y2="445.60" stroke="#000" stroke-width="2.2"/>
<line x1="413.93" y1="442.40" x2="413.93" y2="445.60" stroke="#000" stroke-width="2.2"/>
<line x1="436.44" y1="442.40" x2="436.44" y2="445.60" stroke="#000" stroke-width="2.2"/>
<line x1="458.95" y1="442.40" x2="458.95" y2="445.60" stroke="#000" stroke-width="2.2"/>
<line x1="481.46" y1="442.40" x2="481.46" y2="445.60" stroke="#000" stroke-width="2.2"/>
<line x1="503.97" y1="442.40" x2="503.97" y2="445.60" stroke="#000" stroke-width="2.2"/>
<line x1="526.48" y1="442.40" x2="526.48" y2="445.60" stroke="#000" stroke-width="2.2"/>
<line x1="548.99" y1="442.40" x2="548.99" y2="445.60" stroke="#000" stroke-width="2.2"/>
<line x1="571.50" y1="442.40" x2="571.50" y2="445.60" stroke="#000" stroke-width="2.2"/>
<g><text transform="translate(334.57,445.40) scale(0.960,1)" font-size="9.3" fill="#1e1e1e">0</text></g>
<g><text transform="translate(312.97,415.38) scale(0.960,1)" font-size="9.3" fill="#1e1e1e">5</text><text transform="translate(317.94,415.38) scale(0.960,1)" font-size="9.3" fill="#1e1e1e">0</text><text transform="translate(325.12,415.38) scale(0.960,1)" font-size="9.3" fill="#1e1e1e">0</text><text transform="translate(330.09,415.38) scale(0.960,1)" font-size="9.3" fill="#1e1e1e">0</text><text transform="translate(335.06,415.38) scale(0.960,1)" font-size="9.3" fill="#1e1e1e">0</text></g>
<g><text transform="translate(307.84,385.36) scale(0.960,1)" font-size="9.3" fill="#1e1e1e">1</text><text transform="translate(312.81,385.36) scale(0.960,1)" font-size="9.3" fill="#1e1e1e">0</text><text transform="translate(317.78,385.36) scale(0.960,1)" font-size="9.3" fill="#1e1e1e">0</text><text transform="translate(324.96,385.36) scale(0.960,1)" font-size="9.3" fill="#1e1e1e">0</text><text transform="translate(329.92,385.36) scale(0.960,1)" font-size="9.3" fill="#1e1e1e">0</text><text transform="translate(334.89,385.36) scale(0.960,1)" font-size="9.3" fill="#1e1e1e">0</text></g>
<g><text transform="translate(307.84,355.34) scale(0.960,1)" font-size="9.3" fill="#1e1e1e">1</text><text transform="translate(312.81,355.34) scale(0.960,1)" font-size="9.3" fill="#1e1e1e">5</text><text transform="translate(317.78,355.34) scale(0.960,1)" font-size="9.3" fill="#1e1e1e">0</text><text transform="translate(324.96,355.34) scale(0.960,1)" font-size="9.3" fill="#1e1e1e">0</text><text transform="translate(329.92,355.34) scale(0.960,1)" font-size="9.3" fill="#1e1e1e">0</text><text transform="translate(334.89,355.34) scale(0.960,1)" font-size="9.3" fill="#1e1e1e">0</text></g>
<g><text transform="translate(307.84,325.32) scale(0.960,1)" font-size="9.3" fill="#1e1e1e">2</text><text transform="translate(312.81,325.32) scale(0.960,1)" font-size="9.3" fill="#1e1e1e">0</text><text transform="translate(317.78,325.32) scale(0.960,1)" font-size="9.3" fill="#1e1e1e">0</text><text transform="translate(324.96,325.32) scale(0.960,1)" font-size="9.3" fill="#1e1e1e">0</text><text transform="translate(329.92,325.32) scale(0.960,1)" font-size="9.3" fill="#1e1e1e">0</text><text transform="translate(334.89,325.32) scale(0.960,1)" font-size="9.3" fill="#1e1e1e">0</text></g>
<g><text transform="translate(307.84,295.30) scale(0.960,1)" font-size="9.3" fill="#1e1e1e">2</text><text transform="translate(312.81,295.30) scale(0.960,1)" font-size="9.3" fill="#1e1e1e">5</text><text transform="translate(317.78,295.30) scale(0.960,1)" font-size="9.3" fill="#1e1e1e">0</text><text transform="translate(324.96,295.30) scale(0.960,1)" font-size="9.3" fill="#1e1e1e">0</text><text transform="translate(329.92,295.30) scale(0.960,1)" font-size="9.3" fill="#1e1e1e">0</text><text transform="translate(334.89,295.30) scale(0.960,1)" font-size="9.3" fill="#1e1e1e">0</text></g>
<g><text transform="translate(347.72,458.00) scale(0.960,1)" font-size="9.3" fill="#1e1e1e">2</text><text transform="translate(352.69,458.00) scale(0.960,1)" font-size="9.3" fill="#1e1e1e">0</text><text transform="translate(357.65,458.00) scale(0.960,1)" font-size="9.3" fill="#1e1e1e">0</text><text transform="translate(362.62,458.00) scale(0.960,1)" font-size="9.3" fill="#1e1e1e">0</text></g>
<g><text transform="translate(370.23,458.00) scale(0.960,1)" font-size="9.3" fill="#1e1e1e">2</text><text transform="translate(375.20,458.00) scale(0.960,1)" font-size="9.3" fill="#1e1e1e">0</text><text transform="translate(380.16,458.00) scale(0.960,1)" font-size="9.3" fill="#1e1e1e">0</text><text transform="translate(385.13,458.00) scale(0.960,1)" font-size="9.3" fill="#1e1e1e">1</text></g>
<g><text transform="translate(392.74,458.00) scale(0.960,1)" font-size="9.3" fill="#1e1e1e">2</text><text transform="translate(397.71,458.00) scale(0.960,1)" font-size="9.3" fill="#1e1e1e">0</text><text transform="translate(402.67,458.00) scale(0.960,1)" font-size="9.3" fill="#1e1e1e">0</text><text transform="translate(407.64,458.00) scale(0.960,1)" font-size="9.3" fill="#1e1e1e">2</text></g>
<g><text transform="translate(415.25,458.00) scale(0.960,1)" font-size="9.3" fill="#1e1e1e">2</text><text transform="translate(420.22,458.00) scale(0.960,1)" font-size="9.3" fill="#1e1e1e">0</text><text transform="translate(425.19,458.00) scale(0.960,1)" font-size="9.3" fill="#1e1e1e">0</text><text transform="translate(430.15,458.00) scale(0.960,1)" font-size="9.3" fill="#1e1e1e">3</text></g>
<g><text transform="translate(437.76,458.00) scale(0.960,1)" font-size="9.3" fill="#1e1e1e">2</text><text transform="translate(442.73,458.00) scale(0.960,1)" font-size="9.3" fill="#1e1e1e">0</text><text transform="translate(447.69,458.00) scale(0.960,1)" font-size="9.3" fill="#1e1e1e">0</text><text transform="translate(452.66,458.00) scale(0.960,1)" font-size="9.3" fill="#1e1e1e">4</text></g>
<g><text transform="translate(460.27,458.00) scale(0.960,1)" font-size="9.3" fill="#1e1e1e">2</text><text transform="translate(465.24,458.00) scale(0.960,1)" font-size="9.3" fill="#1e1e1e">0</text><text transform="translate(470.20,458.00) scale(0.960,1)" font-size="9.3" fill="#1e1e1e">0</text><text transform="translate(475.17,458.00) scale(0.960,1)" font-size="9.3" fill="#1e1e1e">5</text></g>
<g><text transform="translate(482.78,458.00) scale(0.960,1)" font-size="9.3" fill="#1e1e1e">2</text><text transform="translate(487.75,458.00) scale(0.960,1)" font-size="9.3" fill="#1e1e1e">0</text><text transform="translate(492.71,458.00) scale(0.960,1)" font-size="9.3" fill="#1e1e1e">0</text><text transform="translate(497.68,458.00) scale(0.960,1)" font-size="9.3" fill="#1e1e1e">6</text></g>
<g><text transform="translate(505.29,458.00) scale(0.960,1)" font-size="9.3" fill="#1e1e1e">2</text><text transform="translate(510.26,458.00) scale(0.960,1)" font-size="9.3" fill="#1e1e1e">0</text><text transform="translate(515.23,458.00) scale(0.960,1)" font-size="9.3" fill="#1e1e1e">0</text><text transform="translate(520.19,458.00) scale(0.960,1)" font-size="9.3" fill="#1e1e1e">7</text></g>
<g><text transform="translate(527.80,458.00) scale(0.960,1)" font-size="9.3" fill="#1e1e1e">2</text><text transform="translate(532.77,458.00) scale(0.960,1)" font-size="9.3" fill="#1e1e1e">0</text><text transform="translate(537.73,458.00) scale(0.960,1)" font-size="9.3" fill="#1e1e1e">0</text><text transform="translate(542.70,458.00) scale(0.960,1)" font-size="9.3" fill="#1e1e1e">8</text></g>
<g><text transform="translate(550.31,458.00) scale(0.960,1)" font-size="9.3" fill="#1e1e1e">2</text><text transform="translate(555.28,458.00) scale(0.960,1)" font-size="9.3" fill="#1e1e1e">0</text><text transform="translate(560.24,458.00) scale(0.960,1)" font-size="9.3" fill="#1e1e1e">0</text><text transform="translate(565.21,458.00) scale(0.960,1)" font-size="9.3" fill="#1e1e1e">9</text></g>
<text x="306.10" y="283.80" font-size="7.7" font-weight="bold" fill="#1e1e1e" textLength="54.10" lengthAdjust="spacingAndGlyphs">Millions de km</text>
<line x1="363.20" y1="470.90" x2="382.00" y2="470.90" stroke="#2962B3" stroke-width="2.6" stroke-linecap="round"/>
<g><text transform="translate(384.11,473.90) scale(1.077,1)" font-size="9.3" fill="#1e1e1e">M</text><text transform="translate(392.46,473.90) scale(0.995,1)" font-size="9.3" fill="#1e1e1e">o</text><text transform="translate(397.60,473.90) scale(1.084,1)" font-size="9.3" fill="#1e1e1e">i</text><text transform="translate(399.84,473.90) scale(0.991,1)" font-size="9.3" fill="#1e1e1e">n</text><text transform="translate(404.97,473.90) scale(0.821,1)" font-size="9.3" fill="#1e1e1e">s</text><text transform="translate(410.99,473.90) scale(0.991,1)" font-size="9.3" fill="#1e1e1e">d</text><text transform="translate(416.11,473.90) scale(0.939,1)" font-size="9.3" fill="#1e1e1e">e</text><text transform="translate(423.17,473.90) scale(0.956,1)" font-size="9.3" fill="#1e1e1e">4</text><text transform="translate(428.12,473.90) scale(0.956,1)" font-size="9.3" fill="#1e1e1e">5</text><text transform="translate(435.27,473.90) scale(0.904,1)" font-size="9.3" fill="#1e1e1e">a</text><text transform="translate(439.94,473.90) scale(0.991,1)" font-size="9.3" fill="#1e1e1e">n</text><text transform="translate(445.07,473.90) scale(0.821,1)" font-size="9.3" fill="#1e1e1e">s</text></g>
<line x1="474.60" y1="470.90" x2="492.60" y2="470.90" stroke="#B82427" stroke-width="2.6" stroke-linecap="round"/>
<g><text transform="translate(493.71,473.90) scale(0.835,1)" font-size="9.3" fill="#1e1e1e">P</text><text transform="translate(498.89,473.90) scale(1.114,1)" font-size="9.3" fill="#1e1e1e">l</text><text transform="translate(501.19,473.90) scale(1.019,1)" font-size="9.3" fill="#1e1e1e">u</text><text transform="translate(506.46,473.90) scale(0.843,1)" font-size="9.3" fill="#1e1e1e">s</text><text transform="translate(512.64,473.90) scale(1.019,1)" font-size="9.3" fill="#1e1e1e">d</text><text transform="translate(517.91,473.90) scale(0.965,1)" font-size="9.3" fill="#1e1e1e">e</text><text transform="translate(525.17,473.90) scale(0.983,1)" font-size="9.3" fill="#1e1e1e">4</text><text transform="translate(530.25,473.90) scale(0.983,1)" font-size="9.3" fill="#1e1e1e">5</text><text transform="translate(537.60,473.90) scale(0.929,1)" font-size="9.3" fill="#1e1e1e">a</text><text transform="translate(542.40,473.90) scale(1.019,1)" font-size="9.3" fill="#1e1e1e">n</text><text transform="translate(547.67,473.90) scale(0.843,1)" font-size="9.3" fill="#1e1e1e">s</text></g>
<g style="stroke-width:0.35px"><text transform="translate(356.90,262.70) scale(0.861,1)" font-size="10.0" fill="#1e1e1e">D</text><text transform="translate(363.12,262.70) scale(0.919,1)" font-size="10.0" fill="#1e1e1e">.</text><text transform="translate(367.96,262.70) scale(0.904,1)" font-size="10.0" fill="#1e1e1e">N</text><text transform="translate(374.49,262.70) scale(0.959,1)" font-size="10.0" fill="#1e1e1e">o</text><text transform="translate(379.82,262.70) scale(0.970,1)" font-size="10.0" fill="#1e1e1e">m</text><text transform="translate(387.90,262.70) scale(0.955,1)" font-size="10.0" fill="#1e1e1e">b</text><text transform="translate(393.21,262.70) scale(1.058,1)" font-size="10.0" fill="#1e1e1e">r</text><text transform="translate(396.73,262.70) scale(0.905,1)" font-size="10.0" fill="#1e1e1e">e</text><text transform="translate(404.05,262.70) scale(1.219,1)" font-size="10.0" fill="#1e1e1e">t</text><text transform="translate(407.44,262.70) scale(0.959,1)" font-size="10.0" fill="#1e1e1e">o</text><text transform="translate(412.77,262.70) scale(1.219,1)" font-size="10.0" fill="#1e1e1e">t</text><text transform="translate(416.15,262.70) scale(0.871,1)" font-size="10.0" fill="#1e1e1e">a</text><text transform="translate(421.00,262.70) scale(1.044,1)" font-size="10.0" fill="#1e1e1e">l</text><text transform="translate(425.60,262.70) scale(0.955,1)" font-size="10.0" fill="#1e1e1e">d</text><text transform="translate(430.92,262.70) scale(0.905,1)" font-size="10.0" fill="#1e1e1e">e</text><text transform="translate(438.23,262.70) scale(0.919,1)" font-size="10.0" fill="#1e1e1e">k</text><text transform="translate(442.83,262.70) scale(1.044,1)" font-size="10.0" fill="#1e1e1e">i</text><text transform="translate(445.15,262.70) scale(1.044,1)" font-size="10.0" fill="#1e1e1e">l</text><text transform="translate(447.47,262.70) scale(0.959,1)" font-size="10.0" fill="#1e1e1e">o</text><text transform="translate(452.80,262.70) scale(0.970,1)" font-size="10.0" fill="#1e1e1e">m</text><text transform="translate(460.88,262.70) scale(0.905,1)" font-size="10.0" fill="#1e1e1e">è</text><text transform="translate(465.91,262.70) scale(1.219,1)" font-size="10.0" fill="#1e1e1e">t</text><text transform="translate(469.29,262.70) scale(1.058,1)" font-size="10.0" fill="#1e1e1e">r</text><text transform="translate(472.82,262.70) scale(0.905,1)" font-size="10.0" fill="#1e1e1e">e</text><text transform="translate(477.85,262.70) scale(0.791,1)" font-size="10.0" fill="#1e1e1e">s</text><text transform="translate(481.80,262.70) scale(0.930,1)" font-size="10.0" fill="#1e1e1e">-</text><text transform="translate(484.90,262.70) scale(0.913,1)" font-size="10.0" fill="#1e1e1e">v</text><text transform="translate(489.47,262.70) scale(0.905,1)" font-size="10.0" fill="#1e1e1e">é</text><text transform="translate(494.50,262.70) scale(0.955,1)" font-size="10.0" fill="#1e1e1e">h</text><text transform="translate(499.81,262.70) scale(1.044,1)" font-size="10.0" fill="#1e1e1e">i</text><text transform="translate(502.13,262.70) scale(0.855,1)" font-size="10.0" fill="#1e1e1e">c</text><text transform="translate(506.40,262.70) scale(0.955,1)" font-size="10.0" fill="#1e1e1e">u</text><text transform="translate(511.72,262.70) scale(1.044,1)" font-size="10.0" fill="#1e1e1e">l</text><text transform="translate(514.04,262.70) scale(0.905,1)" font-size="10.0" fill="#1e1e1e">e</text><text transform="translate(519.07,262.70) scale(0.791,1)" font-size="10.0" fill="#1e1e1e">s</text><text transform="translate(525.31,262.70) scale(0.955,1)" font-size="10.0" fill="#1e1e1e">p</text><text transform="translate(530.62,262.70) scale(0.871,1)" font-size="10.0" fill="#1e1e1e">a</text><text transform="translate(535.46,262.70) scale(1.058,1)" font-size="10.0" fill="#1e1e1e">r</text><text transform="translate(538.99,262.70) scale(0.855,1)" font-size="10.0" fill="#1e1e1e">c</text><text transform="translate(543.26,262.70) scale(0.959,1)" font-size="10.0" fill="#1e1e1e">o</text><text transform="translate(548.59,262.70) scale(0.955,1)" font-size="10.0" fill="#1e1e1e">u</text><text transform="translate(553.91,262.70) scale(1.058,1)" font-size="10.0" fill="#1e1e1e">r</text><text transform="translate(557.43,262.70) scale(0.955,1)" font-size="10.0" fill="#1e1e1e">u</text><text transform="translate(562.74,262.70) scale(0.791,1)" font-size="10.0" fill="#1e1e1e">s</text></g>
</svg>
</body></html>
